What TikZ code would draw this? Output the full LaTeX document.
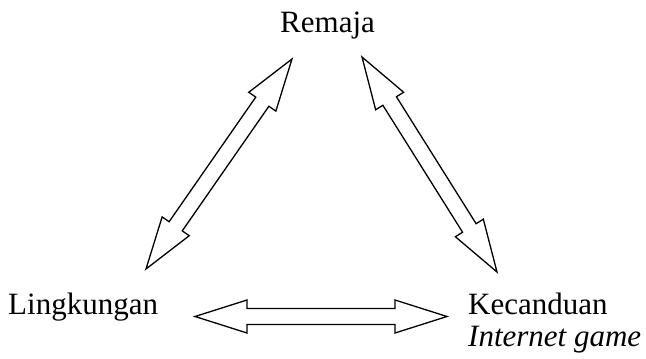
\documentclass[tikz,border=0pt]{standalone}
\usepackage{fontspec}
\setmainfont{Liberation Serif}
\usetikzlibrary{calc}

\tikzset{
  label/.style={anchor=base west,inner sep=0pt,font=\fontsize{31}{32}\selectfont},
  fatline/.style={draw=black,line width=1.3pt,line join=miter}
}

% hollow two-headed arrow between two named points
\newcommand{\fatarrow}[2]{%
  \coordinate (ha) at ($(#1)!\headLen pt!(#2)$);
  \coordinate (hb) at ($(#2)!\headLen pt!(#1)$);
  \draw[fatline] (#1) -- ($(ha)!\headW pt!90:(#1)$) -- ($(ha)!\shaftW pt!90:(#1)$)
    -- ($(hb)!\shaftW pt!-90:(#2)$) -- ($(hb)!\headW pt!-90:(#2)$) -- (#2)
    -- ($(hb)!\headW pt!90:(#2)$) -- ($(hb)!\shaftW pt!90:(#2)$)
    -- ($(ha)!\shaftW pt!-90:(#1)$) -- ($(ha)!\headW pt!-90:(#1)$) -- cycle;
}

\begin{document}
\begin{tikzpicture}[x=1pt,y=1pt]
    % arrow sizes
    \pgfmathsetmacro{\headLen}{52}
    \pgfmathsetmacro{\headW}{16.5}
    \pgfmathsetmacro{\shaftW}{8}
    \useasboundingbox (0,0) rectangle (646,359);
    % the three corners
    \node[label] (remaja) at (280,326) {Remaja};
    \node[label] (lingkungan) at (8,44) {Lingkungan};
    \node[label] (kecanduan) at (468,44) {Kecanduan};
    \node[label,font=\fontsize{31}{32}\selectfont\itshape] (game) at (468,12) {Internet game};
    % arrow ends
    \coordinate (remL) at (292,300);
    \coordinate (linT) at (146,90);
    \coordinate (remR) at (362,302);
    \coordinate (kecT) at (497,87);
    \coordinate (linR) at (195,42.5);
    \coordinate (kecL) at (447,42.5);
    \fatarrow{remL}{linT}
    \fatarrow{remR}{kecT}
    \fatarrow{linR}{kecL}
\end{tikzpicture}
\end{document}
